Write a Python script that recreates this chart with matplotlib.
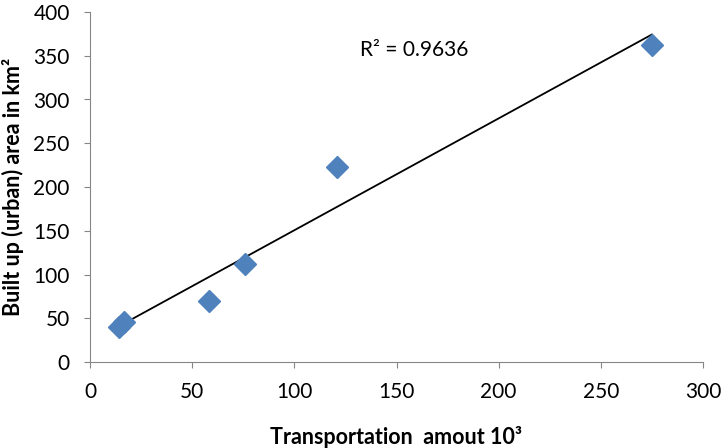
import numpy as np
import matplotlib
matplotlib.use('agg')
import matplotlib.pyplot as plt

# values
transport = [14, 16.5, 58, 76, 121, 275]
built_up = [40, 46, 70, 112, 223, 362]
x_ticks = [0, 50, 100, 150, 200, 250, 300]
y_ticks = [0, 50, 100, 150, 200, 250, 300, 350, 400]
r2_text = 'R² = 0.9636'

plt.rcParams['font.family'] = ['Lato', 'DejaVu Sans']

fig = plt.figure(figsize=(7.24, 4.48), dpi=100)
ax = fig.add_axes([90/724, 1-362/448, 613/724, 350/448])

ax.plot(transport, built_up, 'D', color='#4F81BD', markersize=11, zorder=3)

# linear trend line
k, b = np.polyfit(transport, built_up, 1)
xl = np.array([min(transport), max(transport)])
ax.plot(xl, k*xl + b, color='black', lw=1.3, zorder=2)

ax.text(132, 357, r2_text, fontsize=15, va='center', ha='left')

ax.set_xlim(0, 300)
ax.set_ylim(0, 400)
ax.set_xticks(x_ticks)
ax.set_yticks(y_ticks)
ax.tick_params(direction='out', length=4.5, color='#868686', labelsize=15)
ax.tick_params(axis='x', pad=10)
ax.tick_params(axis='y', pad=10)
for s in ['top', 'right']:
    ax.spines[s].set_visible(False)
for s in ['left', 'bottom']:
    ax.spines[s].set_color('#868686')

ax.set_xlabel('Transportation  amout 10³', fontsize=15.5, fontweight='bold')
ax.set_ylabel('Built up (urban) area in km²', fontsize=15.5, fontweight='bold')
ax.xaxis.set_label_coords(0.5, (362-426)/350)
ax.yaxis.set_label_coords((24-90)/613, 0.5)

fig.savefig('out.png', dpi=100)
plt.close()
